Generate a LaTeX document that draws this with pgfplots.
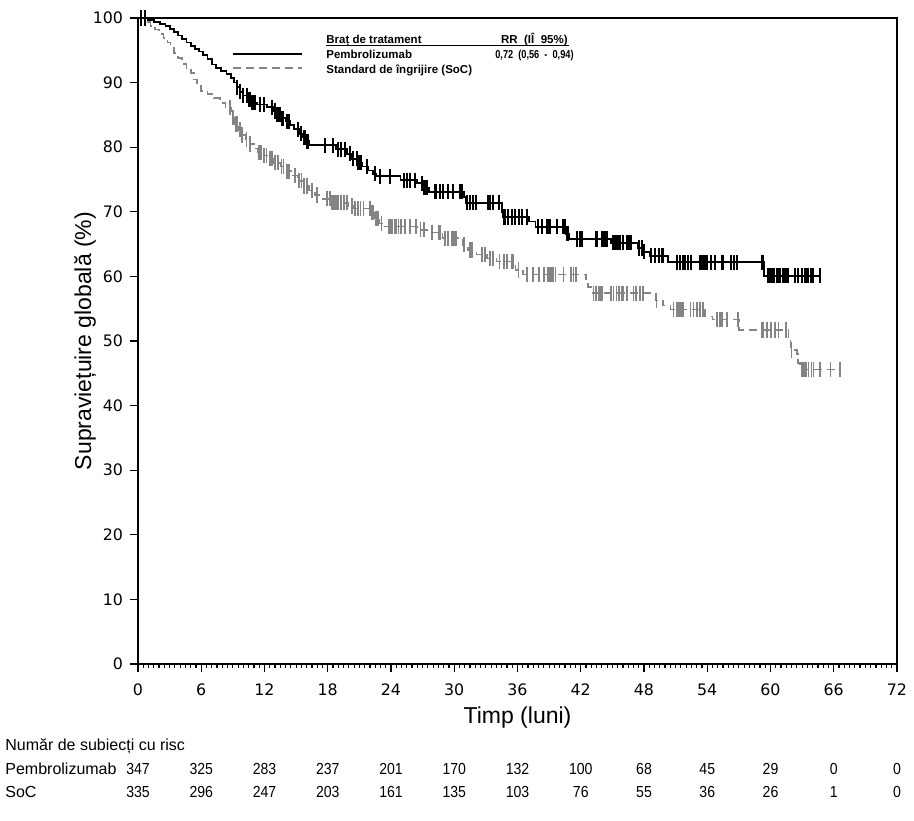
\documentclass[border=0pt]{standalone}
\usepackage{graphicx}
\usepackage{pgfplots}
\pgfplotsset{compat=1.18}
\usepackage{pgfplotstable}
\usepackage{fontspec}
\setmainfont{Liberation Sans}
\newfontfamily\dejavu{DejaVu Sans}
\definecolor{socgray}{RGB}{132,132,132}

% Kaplan-Meier estimates: t = months, s = survival (%), c = 1 for a censored subject
\pgfplotstableread{
t s c
0 100 0
0.3 100 1
0.7 100 1
0.9 99.7 0
1.5 99.4 0
2.1 99.1 0
2.6 98.8 0
3.0 98.3 0
3.4 97.8 0
3.8 97.3 0
4.2 96.7 0
4.6 96.2 0
5.0 95.7 0
5.4 95.2 0
5.8 94.8 0
6.2 94.3 0
6.6 93.6 0
7.0 92.8 0
7.4 92.2 0
7.9 91.8 0
8.4 91.3 0
8.8 90.7 0
9.1 90.0 0
9.35 89.3 0
9.4 89.3 1
9.65 88.6 0
9.7 88.6 1
9.95 88.0 0
10.0 88.0 1
10.3 88.0 1
10.4 87.4 0
10.5 87.4 1
10.6 87.4 1
10.75 86.9 0
10.8 86.9 1
10.9 86.9 1
11.1 86.9 1
11.3 86.6 0
11.6 86.6 1
12.0 86.6 1
12.2 86.2 0
12.7 86.2 1
12.8 85.6 0
13.0 85.6 1
13.15 85.1 0
13.2 85.1 1
13.35 85.1 1
13.5 85.1 1
13.6 84.5 0
13.7 84.5 1
13.8 84.5 1
14.0 84.0 0
14.1 84.0 1
14.3 84.0 1
14.4 83.4 0
14.8 82.8 0
15.2 82.8 1
15.3 82.1 0
15.5 82.1 1
15.6 81.5 0
15.7 81.5 1
15.8 81.5 1
15.9 80.9 0
16.0 80.9 1
16.15 80.9 1
16.2 80.3 0
17.7 80.3 1
18.5 80.3 1
18.8 79.7 0
19.0 79.7 1
19.3 79.7 1
19.6 79.7 1
19.8 79.0 0
20.1 79.0 1
20.3 78.2 0
20.4 78.2 1
20.75 78.2 1
20.8 77.6 0
20.9 77.6 1
21.05 77.6 1
21.2 77.6 1
21.3 77.0 0
21.7 77.0 1
21.8 76.4 0
22.3 75.9 0
22.5 75.9 1
22.6 75.5 0
22.95 75.5 1
23.9 75.5 1
24.9 74.9 0
25.2 74.9 1
25.5 74.9 1
25.8 74.9 1
26.3 74.9 1
26.5 74.4 0
26.9 74.4 1
27.0 73.7 0
27.1 73.7 1
27.2 73.7 1
27.4 73.7 1
27.6 73.1 0
28.2 73.1 1
28.3 73.1 1
28.65 73.1 1
28.95 73.1 1
29.4 73.1 1
29.9 73.1 1
30.55 73.1 1
30.7 73.1 1
30.9 72.3 0
31.1 71.4 0
31.2 71.4 1
31.5 71.4 1
31.8 71.4 1
32.1 71.4 1
33.2 71.4 1
33.4 71.4 1
33.7 71.4 1
34.2 71.4 1
34.5 70.0 0
34.65 69.2 0
34.7 69.2 1
34.8 69.2 1
35.1 69.2 1
35.5 69.2 1
35.8 69.2 1
36.1 69.2 1
36.4 69.2 1
36.9 69.2 1
37.1 68.5 0
37.7 67.7 0
37.98 67.7 1
38.3 67.7 1
38.8 67.7 1
38.9 67.7 1
39.1 67.7 1
39.7 67.7 1
40.35 67.7 1
40.5 67.7 1
40.6 66.6 0
40.7 66.6 1
40.8 66.6 1
40.9 65.8 0
41.6 65.8 1
41.9 65.8 1
42.1 65.8 1
43.4 65.8 1
43.5 65.8 1
44.0 65.8 1
44.15 65.8 1
44.3 65.8 1
44.5 65.8 1
44.9 65.2 0
45.1 65.2 1
45.25 65.2 1
45.4 65.2 1
45.6 65.2 1
45.7 65.2 1
46.05 65.2 1
46.4 65.2 1
46.5 65.2 1
46.7 65.2 1
46.8 65.2 1
47.4 64.4 0
47.5 64.4 1
47.8 64.4 1
47.9 63.8 0
48.0 63.8 1
48.6 63.2 0
48.7 63.2 1
49.05 63.2 1
49.4 63.2 1
49.7 63.2 1
49.8 63.2 1
50.3 62.2 0
51.1 62.2 1
51.4 62.2 1
51.7 62.2 1
51.9 62.2 1
52.2 62.2 1
52.5 62.2 1
53.3 62.2 1
53.5 62.2 1
53.6 62.2 1
53.8 62.2 1
53.95 62.2 1
54.4 62.2 1
54.7 62.2 1
55.4 62.2 1
55.5 62.2 1
56.3 62.2 1
56.5 62.2 1
56.8 62.2 1
59.2 62.2 1
59.3 62.2 1
59.4 60.1 0
59.8 60.1 1
59.95 60.1 1
60.1 60.1 1
60.3 60.1 1
60.6 60.1 1
60.75 60.1 1
60.9 60.1 1
61.2 60.1 1
61.4 60.1 1
61.5 60.1 1
61.7 60.1 1
62.3 60.1 1
62.65 60.1 1
62.95 60.1 1
63.3 60.1 1
63.4 60.1 1
63.6 60.1 1
63.8 60.1 1
63.9 60.1 1
64.05 60.1 1
64.7 60.1 1
}\pembro

\pgfplotstableread{
t s c
0 100 0
0.7 99.4 0
1.2 98.8 0
1.6 98.2 0
2.0 97.5 0
2.4 96.9 0
2.8 96.2 0
3.1 95.4 0
3.4 94.6 0
3.8 93.8 0
4.2 92.9 0
4.6 92.2 0
5.0 91.5 0
5.3 90.5 0
5.6 89.5 0
6.0 88.7 0
6.6 88.2 0
7.2 87.6 0
7.8 86.8 0
8.3 86.1 0
8.73 86.1 1
8.8 85.5 0
9.0 84.6 0
9.04 84.6 1
9.2 83.6 0
9.25 83.6 1
9.36 83.6 1
9.5 82.7 0
9.68 82.7 1
9.8 81.9 0
9.84 81.9 1
10.2 81.2 0
10.3 81.2 1
10.6 80.5 0
10.65 80.5 1
11.0 79.8 0
11.4 79.2 0
11.45 79.2 1
11.7 79.2 1
11.9 78.7 0
11.95 78.7 1
12.2 78.7 1
12.4 78.2 0
12.5 78.2 1
12.7 78.2 1
12.9 77.6 0
13.0 77.6 1
13.3 77.6 1
13.5 77.0 0
13.6 77.0 1
13.8 77.0 1
14.1 76.3 0
14.15 76.3 1
14.3 76.3 1
14.7 75.6 0
14.9 75.6 1
15.2 74.8 0
15.25 74.8 1
15.5 74.8 1
15.7 74.0 0
15.75 74.0 1
16.0 74.0 1
16.2 73.3 0
16.5 73.3 1
16.8 72.6 0
16.95 72.6 1
17.5 72.0 0
17.9 72.0 1
18.2 72.0 1
18.3 71.4 0
18.4 71.4 1
18.5 71.4 1
18.7 71.4 1
18.9 71.4 1
19.0 71.4 1
19.2 71.4 1
19.3 71.4 1
19.5 71.4 1
19.6 71.4 1
19.8 71.4 1
19.9 70.9 0
20.3 70.9 1
20.4 70.5 0
20.6 70.5 1
20.9 70.5 1
21.1 70.5 1
21.4 70.5 1
22.0 70.5 1
22.1 69.9 0
22.2 69.9 1
22.3 69.9 1
22.4 69.0 0
22.6 69.0 1
22.8 69.0 1
22.9 68.2 0
23.1 68.2 1
23.3 67.7 0
23.75 67.7 1
23.9 67.7 1
24.1 67.7 1
24.4 67.7 1
24.5 67.7 1
24.7 67.7 1
24.9 67.7 1
25.0 67.7 1
25.3 67.7 1
25.8 67.7 1
26.4 67.7 1
26.5 67.2 0
26.8 67.2 1
27.1 67.2 1
27.6 66.8 0
27.9 66.8 1
28.5 66.8 1
28.65 66.8 1
28.9 65.9 0
29.1 65.9 1
29.4 65.9 1
29.8 65.9 1
29.9 65.9 1
30.1 65.9 1
30.2 65.9 1
30.85 64.9 0
30.95 64.9 1
31.3 64.1 0
31.5 64.1 1
31.7 64.1 1
32.1 63.4 0
32.6 63.4 1
32.9 63.4 1
33.1 62.8 0
33.4 62.8 1
33.7 62.8 1
34.0 62.3 0
34.3 62.3 1
34.7 62.3 1
35.0 62.3 1
35.5 62.3 1
35.6 62.3 1
35.8 61.0 0
36.1 61.0 1
36.5 60.3 0
36.9 60.3 1
37.5 60.3 1
38.0 60.3 1
38.1 60.3 1
38.5 60.3 1
38.9 60.3 1
39.1 60.3 1
39.25 60.3 1
39.4 60.3 1
39.6 60.3 1
40.35 60.3 1
41.1 60.3 1
41.3 60.3 1
41.5 60.3 1
41.6 60.3 1
42.5 59.5 0
42.7 58.4 0
43.1 57.4 0
43.2 57.4 1
43.4 57.4 1
43.5 57.4 1
43.7 57.4 1
43.8 57.4 1
44.0 57.4 1
44.9 57.4 1
45.1 57.4 1
45.4 57.4 1
45.6 57.4 1
45.9 57.4 1
46.05 57.4 1
46.4 57.4 1
47.0 57.4 1
47.2 57.4 1
47.3 57.4 1
47.6 57.4 1
47.9 57.4 1
49.1 56.3 0
49.2 56.3 1
49.8 55.5 0
50.5 54.9 0
50.8 54.9 1
51.1 54.9 1
51.3 54.9 1
51.4 54.9 1
51.6 54.9 1
51.7 54.9 1
52.4 54.9 1
52.7 54.9 1
53.0 54.9 1
53.3 54.9 1
53.6 54.9 1
53.8 53.8 0
54.5 53.3 0
54.9 53.3 1
55.2 53.3 1
55.4 53.3 1
55.85 53.3 1
56.95 53.3 1
57.0 51.7 0
59.2 51.7 1
59.3 51.7 1
59.65 51.7 1
60.0 51.7 1
60.1 51.7 1
60.4 51.7 1
60.75 51.7 1
61.5 51.7 1
61.7 50.2 0
61.9 48.6 0
62.0 48.6 1
62.5 48.0 0
62.6 46.6 0
62.8 45.6 0
62.97 45.6 1
63.1 45.6 1
63.3 45.6 1
63.4 45.6 1
63.6 45.6 1
63.9 45.6 1
64.07 45.6 1
64.7 45.6 1
65.7 45.6 1
66.6 45.6 1
}\soc

\begin{document}
\begin{tikzpicture}
\useasboundingbox (-69pt,-78pt) rectangle (388pt,332pt);
\begin{axis}[
  at={(0,0)}, anchor=south west,
  scale only axis, width=379.5pt, height=323pt,
  xmin=0, xmax=72, ymin=0, ymax=100,
  xtick={0,6,...,72}, ytick={0,10,...,100},
  minor x tick num=11,
  tick align=outside, xtick pos=bottom, ytick pos=left,
  major tick length=4pt, minor tick length=2pt,
  axis line style={line width=0.75pt},
  every tick/.style={black, line width=0.6pt},
  tick label style={font=\dejavu\fontsize{7.9}{9}\selectfont},
  xticklabel style={yshift=-2.5pt},
  /pgf/number format/assume math mode=true,
  unbounded coords=discard,
]
% standard of care: dashed step curve and censor marks
\addplot[socgray, line width=0.8pt, dash pattern=on 4pt off 2.5pt, const plot]
  table[x=t, y=s]{\soc};
\addplot[socgray, only marks, mark=|, mark size=3.8pt,
  mark options={solid, line width=0.85pt},
  restrict expr to domain={\thisrow{c}}{1:1}]
  table[x=t, y=s]{\soc};
% pembrolizumab: solid step curve and censor marks
\addplot[black, line width=0.9pt, const plot]
  table[x=t, y=s]{\pembro};
\addplot[black, only marks, mark=|, mark size=3.8pt,
  mark options={solid, line width=1pt},
  restrict expr to domain={\thisrow{c}}{1:1}]
  table[x=t, y=s]{\pembro};
\end{axis}

% axis titles
\node[rotate=90, font=\fontsize{11.5}{13}\selectfont] at (-26.5pt,161.5pt) {Supraviețuire globală (\%)};
\node[font=\fontsize{11.5}{13}\selectfont] at (189.75pt,-27pt) {Timp (luni)};

% legend with hazard ratio
\draw[black, line width=0.9pt] (47.3pt,305pt) -- (81.8pt,305pt);
\draw[socgray, line width=0.8pt, dash pattern=on 4pt off 2.5pt] (47.3pt,297.9pt) -- (81.8pt,297.9pt);
\begin{scope}[every node/.style={inner sep=0pt, font=\bfseries\fontsize{5.75}{7}\selectfont}]
\node[anchor=base west] at (94pt,310.25pt) {Braț de tratament};
\node[anchor=base east] at (215pt,310.25pt) {RR\ \ (IÎ\ \ 95\%)};
\draw[line width=0.5pt] (94pt,309.2pt) -- (215.3pt,309.2pt);
\node[anchor=base west] at (94pt,302.5pt) {Pembrolizumab};
\node[anchor=base east] at (218pt,302.5pt) {\scalebox{0.8}[1]{0,72\ \ (0,56\ \ -\ \ 0,94)}};
\node[anchor=base west] at (94pt,295pt) {Standard de îngrijire (SoC)};
\end{scope}

% number at risk
\begin{scope}[every node/.style={inner sep=0pt, font=\fontsize{8}{9.6}\selectfont}]
\node[anchor=base west] at (-66.5pt,-43pt) {Număr de subiecți cu risc};
\node[anchor=base west] at (-66.5pt,-55pt) {Pembrolizumab};
\node[anchor=base west] at (-66.5pt,-66.5pt) {SoC};
\foreach \v [count=\i from 0] in {347,325,283,237,201,170,132,100,68,45,29,0,0}
  \node[anchor=base] at (\i*31.625pt,-55pt) {\scalebox{0.88}[1]{\v}};
\foreach \v [count=\i from 0] in {335,296,247,203,161,135,103,76,55,36,26,1,0}
  \node[anchor=base] at (\i*31.625pt,-66.5pt) {\scalebox{0.88}[1]{\v}};
\end{scope}
\end{tikzpicture}
\end{document}
